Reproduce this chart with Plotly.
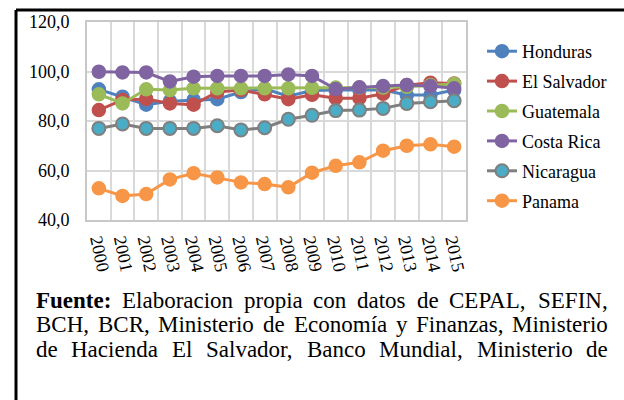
import plotly.graph_objects as go

years = [str(y) for y in range(2000, 2016)]
honduras = [92.8, 89.8, 86.6, 88.0, 88.5, 88.8, 91.7, 93.0, 90.0, 92.3, 92.5, 92.5, 92.5, 90.5, 90.5, 92.5]
el_salvador = [84.4, 88.5, 88.9, 87.1, 86.6, 91.7, 92.5, 90.8, 88.8, 90.6, 89.2, 89.2, 91.0, 94.5, 95.5, 95.2]
guatemala = [90.8, 87.1, 92.8, 92.5, 93.2, 93.2, 93.2, 93.2, 93.2, 93.4, 93.5, 93.5, 93.5, 93.8, 94.5, 95.0]
costa_rica = [99.9, 99.6, 99.6, 96.0, 97.9, 98.2, 98.2, 98.2, 98.8, 98.2, 92.9, 93.6, 94.1, 94.5, 94.1, 93.2]
nicaragua = [77.0, 78.8, 77.0, 77.0, 77.0, 78.1, 76.4, 77.3, 80.7, 82.3, 84.2, 84.4, 85.1, 87.1, 87.8, 88.2]
panama = [52.8, 49.7, 50.5, 56.4, 58.9, 57.2, 55.2, 54.5, 53.2, 59.1, 61.9, 63.3, 68.0, 70.0, 70.6, 69.6]

series_names = ["Honduras", "El Salvador", "Guatemala", "Costa Rica", "Nicaragua", "Panama"]
series_values = [honduras, el_salvador, guatemala, costa_rica, nicaragua, panama]
line_colors = ["#4f81bd", "#c0504d", "#9bbb59", "#8064a2", "#7f7f7f", "#f79646"]
marker_colors = ["#4f81bd", "#c0504d", "#9bbb59", "#8064a2", "#4bacc6", "#f79646"]

caption_lines = [
    ["<b>Fuente:</b>", "Elaboracion", "propia", "con", "datos", "de", "CEPAL,", "SEFIN,"],
    ["BCH,", "BCR,", "Ministerio", "de", "Economía", "y", "Finanzas,", "Ministerio"],
    ["de", "Hacienda", "El", "Salvador,", "Banco", "Mundial,", "Ministerio", "de"],
]

W, H = 624, 400
L, R, T, B = 87, 158, 22, 180
PW, PH = W - L - R, H - T - B
FONT = "Liberation Serif"

def px_x(px):
    return (px - L) / PW

def px_y(py):
    return (H - B - py) / PH

fig = go.Figure()
for i, (name, vals) in enumerate(zip(series_names, series_values)):
    fig.add_trace(go.Scatter(
        x=years, y=vals, name=name, mode="lines+markers",
        legendgroup=name,
        line=dict(color=line_colors[i], width=3),
        marker=dict(size=13, color=marker_colors[i],
                    line=dict(color=line_colors[i], width=1.5 if i != 4 else 2)),
    ))

# Times New Roman metrics (per 1000 em) for justification
reg = {' ': 250, ',': 250, '.': 250, ':': 278, 'a': 444, 'b': 500, 'c': 444, 'd': 500, 'e': 444,
       'f': 333, 'g': 500, 'h': 500, 'i': 278, 'j': 278, 'k': 500, 'l': 278, 'm': 778, 'n': 500,
       'o': 500, 'p': 500, 'q': 500, 'r': 333, 's': 389, 't': 278, 'u': 500, 'v': 500, 'w': 722,
       'x': 500, 'y': 500, 'z': 444, 'A': 722, 'B': 667, 'C': 667, 'D': 722, 'E': 611, 'F': 556,
       'G': 722, 'H': 722, 'I': 333, 'J': 389, 'K': 722, 'L': 611, 'M': 889, 'N': 722, 'O': 722,
       'P': 556, 'Q': 722, 'R': 667, 'S': 556, 'T': 611, 'U': 722, 'V': 722, 'W': 944, 'X': 722,
       'Y': 722, 'Z': 611, 'í': 278}
bold = {'F': 611, 'u': 556, 'e': 444, 'n': 556, 't': 333, ':': 333}

def word_width(w, size):
    if w.startswith("<b>"):
        t = w[3:-4]
        return sum(bold.get(c, 500) for c in t) * size / 1000
    return sum(reg.get(c, 500) for c in w) * size / 1000

CAP_SIZE = 23
x_left, x_right = 35, 607
line_y = [300, 324.5, 349]
for words, ly in zip(caption_lines, line_y):
    widths = [word_width(w, CAP_SIZE) for w in words]
    gap = (x_right - x_left - sum(widths)) / (len(words) - 1)
    x = x_left
    for w, wd in zip(words, widths):
        fig.add_annotation(x=px_x(x), y=px_y(ly), xref="paper", yref="paper",
                           text=w, showarrow=False, xanchor="left", yanchor="middle",
                           borderpad=0, font=dict(family=FONT, size=CAP_SIZE, color="black"))
        x += wd + gap

# outer frame
fig.add_shape(type="line", xref="paper", yref="paper", x0=px_x(16), x1=px_x(640),
              y0=px_y(10), y1=px_y(10), line=dict(color="black", width=3))
fig.add_shape(type="line", xref="paper", yref="paper", x0=px_x(16), x1=px_x(16),
              y0=px_y(10), y1=px_y(420), line=dict(color="black", width=3))

fig.update_layout(
    width=W, height=H,
    margin=dict(l=L, r=R, t=T, b=B, autoexpand=False),
    paper_bgcolor="white", plot_bgcolor="white",
    separators=",.",
    font=dict(family=FONT, size=18, color="black"),
    showlegend=True,
    legend=dict(x=px_x(482), y=px_y(33), xanchor="left", yanchor="top",
                traceorder="grouped", tracegroupgap=3.5,
                font=dict(family=FONT, size=18, color="black"),
                bgcolor="rgba(0,0,0,0)"),
    xaxis=dict(type="category", tickson="boundaries", showgrid=True, automargin=False,
               gridcolor="#d9d9d9", gridwidth=2, tickangle=78,
               showline=True, linecolor="#c8c8c8", linewidth=2, mirror=True,
               ticks="", ticklabelstandoff=1,
               tickfont=dict(family=FONT, size=18), range=[-0.5, 15.5]),
    yaxis=dict(range=[40, 120], dtick=20, tickformat=".1f", showgrid=True, automargin=False,
               gridcolor="#d9d9d9", gridwidth=2,
               showline=True, linecolor="#c8c8c8", linewidth=2, mirror=True,
               ticks="", ticklabelstandoff=12, tickfont=dict(family=FONT, size=18),
               zeroline=False),
)

fig.write_html("out.html", config={"displayModeBar": False},
               post_script="document.body.style.margin='0';")
